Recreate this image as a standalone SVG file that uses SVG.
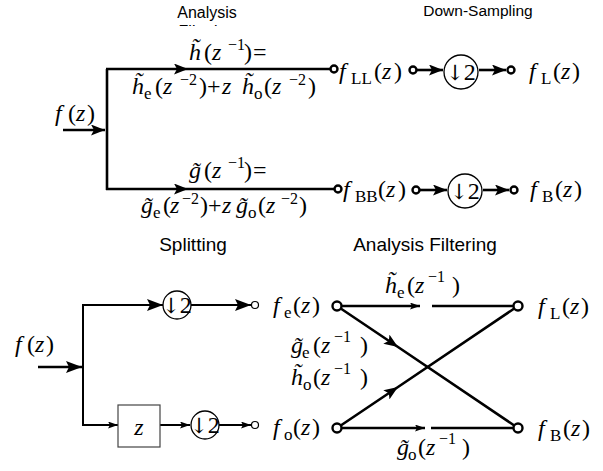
<svg xmlns="http://www.w3.org/2000/svg" width="603" height="471" viewBox="0 0 603 471">
<style>
  .ln{fill:none;stroke:#000;stroke-width:2.6}
  .ln2{fill:none;stroke:#000;stroke-width:2}
  .oc{fill:#fff;stroke:#000;stroke-width:2.4}
  .oc1{fill:#fff;stroke:#000;stroke-width:1.2}
  .ds{fill:#fff;stroke:#000;stroke-width:1.3}
  .box{fill:#fff;stroke:#444;stroke-width:1.2}
  .t{font-family:"Liberation Sans",Arial,sans-serif;fill:#000}
  .m{font-family:"Liberation Serif","Times New Roman",serif;font-size:24px;fill:#000}
  .i{font-style:italic}
  .s{font-size:17px}
  .p{font-size:16px}
  .ar{font-family:"DejaVu Serif","DejaVu Sans",serif;font-size:21px}
</style>
<defs>
  <marker id="ah" markerUnits="userSpaceOnUse" markerWidth="14" markerHeight="11" refX="14" refY="5.5" orient="auto">
    <path d="M0,0 L14,5.5 L0,11 L3,5.5 Z" fill="#000"/>
  </marker>
  <marker id="al" markerUnits="userSpaceOnUse" markerWidth="16" markerHeight="12" refX="16" refY="6" orient="auto">
    <path d="M0,0 L16,6 L0,12 L3,6 Z" fill="#000"/>
  </marker>
  <marker id="as" markerUnits="userSpaceOnUse" markerWidth="10" markerHeight="7" refX="10" refY="3.5" orient="auto">
    <path d="M0,0 L10,3.5 L0,7 L2,3.5 Z" fill="#000"/>
  </marker>
  <clipPath id="clipF"><rect x="150" y="0" width="120" height="26"/></clipPath>
</defs>

<g id="connectors">
  <path class="ln" d="M63,130 H105" marker-end="url(#ah)"/>
  <path class="ln" d="M107,69 V190"/>
  <path class="ln" d="M106,69 L188,69 L330,69" marker-mid="url(#ah)"/>
  <path class="ln" d="M106,189 L188,189 L334,189" marker-mid="url(#ah)"/>
  <path class="ln" d="M417,70 H443" marker-end="url(#ah)"/>
  <path class="ln" d="M479,70 H506" marker-end="url(#ah)"/>
  <path class="ln" d="M420,190 H447" marker-end="url(#ah)"/>
  <path class="ln" d="M483,190 H509" marker-end="url(#ah)"/>
  <path class="ln" d="M38,367 H82" marker-end="url(#al)"/>
  <path class="ln2" d="M83,305 V425"/>
  <path class="ln2" d="M82,305 H163" marker-end="url(#al)"/>
  <path class="ln2" d="M82,425 H118" marker-end="url(#as)"/>
  <path class="ln2" d="M191,305 H251" marker-end="url(#al)"/>
  <path class="ln2" d="M160,425 H190" marker-end="url(#as)"/>
  <path class="ln2" d="M219,425 H251" marker-end="url(#as)"/>
  <path class="ln" d="M341,306 H420" marker-end="url(#as)"/>
  <path class="ln" d="M432,306 H514"/>
  <path class="ln" d="M341,428 H425" marker-end="url(#as)"/>
  <path class="ln" d="M431,428 H514"/>
  <path class="ln" d="M340,308 L398,347 L515,426" marker-mid="url(#ah)"/>
  <path class="ln" d="M340,426 L398,387 L515,308" marker-mid="url(#ah)"/>
</g>

<g id="titles">
  <text class="t" x="207" y="18" font-size="16" text-anchor="middle">Analysis</text>
  <text class="t" x="207" y="37" font-size="16" text-anchor="middle" clip-path="url(#clipF)">Filtering</text>
  <text class="t" x="478" y="16" font-size="15.5" text-anchor="middle">Down-Sampling</text>
  <text class="t" x="193" y="251" font-size="19" text-anchor="middle">Splitting</text>
  <text class="t" x="425" y="251" font-size="19" text-anchor="middle">Analysis Filtering</text>
</g>

<g id="input-top">
  <text class="m" y="121"><tspan class="i" x="55">f</tspan><tspan x="68">(</tspan><tspan class="i" x="76">z</tspan><tspan x="87">)</tspan></text>
</g>

<g id="filter-h">
  <text class="m" y="60"><tspan class="i" x="189">h&#x303;</tspan><tspan x="204">(</tspan><tspan class="i" x="212">z</tspan><tspan class="p" x="228" y="50">−1</tspan><tspan x="244" y="60">)</tspan><tspan x="253">=</tspan></text>
  <text class="m" y="94"><tspan class="i" x="132">h&#x303;</tspan><tspan class="s" x="144" y="99">e</tspan><tspan x="155" y="94">(</tspan><tspan class="i" x="163">z</tspan><tspan class="p" x="180" y="85">−2</tspan><tspan x="199" y="94">)</tspan><tspan x="207">+</tspan><tspan class="i" x="222">z</tspan><tspan class="i" x="242">h&#x303;</tspan><tspan class="s" x="254" y="99">o</tspan><tspan x="264" y="94">(</tspan><tspan class="i" x="272">z</tspan><tspan class="p" x="289" y="85">−2</tspan><tspan x="308" y="94">)</tspan></text>
</g>

<g id="filter-g">
  <text class="m" y="178"><tspan class="i" x="189">g&#x303;</tspan><tspan x="204">(</tspan><tspan class="i" x="212">z</tspan><tspan class="p" x="228" y="168">−1</tspan><tspan x="244" y="178">)</tspan><tspan x="253">=</tspan></text>
  <text class="m" y="213"><tspan class="i" x="141">g&#x303;</tspan><tspan class="s" x="153" y="218">e</tspan><tspan x="163" y="213">(</tspan><tspan class="i" x="170">z</tspan><tspan class="p" x="182" y="204">−2</tspan><tspan x="200" y="213">)</tspan><tspan x="208">+</tspan><tspan class="i" x="222">z</tspan><tspan class="i" x="236">g&#x303;</tspan><tspan class="s" x="248" y="218">o</tspan><tspan x="258" y="213">(</tspan><tspan class="i" x="266">z</tspan><tspan class="p" x="281" y="204">−2</tspan><tspan x="299" y="213">)</tspan></text>
</g>

<g id="out-LL">
  <circle class="oc" cx="334" cy="69" r="3.5"/>
  <text class="m" y="79"><tspan class="i" x="339">f</tspan><tspan class="s" x="351" y="84">LL</tspan><tspan x="374" y="79">(</tspan><tspan class="i" x="382">z</tspan><tspan x="394">)</tspan></text>
</g>
<g id="ds-top">
  <circle class="oc" cx="413" cy="70" r="3.5"/>
  <circle class="ds" cx="461" cy="72" r="17"/>
  <text class="m" x="461" y="80" text-anchor="middle"><tspan class="ar">↓</tspan>2</text>
  <circle class="oc" cx="511" cy="70" r="3.5"/>
</g>
<g id="out-L-top">
  <text class="m" y="79"><tspan class="i" x="529">f</tspan><tspan class="s" x="541" y="84">L</tspan><tspan x="553" y="79">(</tspan><tspan class="i" x="561">z</tspan><tspan x="572">)</tspan></text>
</g>

<g id="out-BB">
  <circle class="oc" cx="338" cy="189" r="3.5"/>
  <text class="m" y="197"><tspan class="i" x="343">f</tspan><tspan class="s" x="355" y="202">BB</tspan><tspan x="378" y="197">(</tspan><tspan class="i" x="386">z</tspan><tspan x="398">)</tspan></text>
</g>
<g id="ds-bottom">
  <circle class="oc" cx="416" cy="190" r="3.5"/>
  <circle class="ds" cx="465" cy="191" r="17"/>
  <text class="m" x="465" y="199" text-anchor="middle"><tspan class="ar">↓</tspan>2</text>
  <circle class="oc" cx="514" cy="190" r="3.5"/>
</g>
<g id="out-B-top">
  <text class="m" y="197"><tspan class="i" x="530">f</tspan><tspan class="s" x="542" y="202">B</tspan><tspan x="555" y="197">(</tspan><tspan class="i" x="563">z</tspan><tspan x="574">)</tspan></text>
</g>

<g id="input-bottom">
  <text class="m" y="352"><tspan class="i" x="15">f</tspan><tspan x="27">(</tspan><tspan class="i" x="35">z</tspan><tspan x="46">)</tspan></text>
</g>
<g id="split-even">
  <circle class="ds" cx="177" cy="305" r="14"/>
  <text class="m" x="177" y="313" text-anchor="middle"><tspan class="ar">↓</tspan>2</text>
  <circle class="oc1" cx="255" cy="305" r="3.5"/>
</g>
<g id="delay">
  <rect class="box" x="118" y="405" width="42" height="42"/>
  <text class="m i" x="139" y="435" text-anchor="middle">z</text>
</g>
<g id="split-odd">
  <circle class="ds" cx="205" cy="425" r="14"/>
  <text class="m" x="205" y="433" text-anchor="middle"><tspan class="ar">↓</tspan>2</text>
  <circle class="oc1" cx="255" cy="425" r="3.5"/>
</g>

<g id="node-fe">
  <text class="m" y="313"><tspan class="i" x="273">f</tspan><tspan class="s" x="284" y="318">e</tspan><tspan x="293" y="313">(</tspan><tspan class="i" x="301">z</tspan><tspan x="312">)</tspan></text>
  <circle class="oc" cx="337" cy="306" r="4.5"/>
</g>
<g id="node-fo">
  <text class="m" y="435"><tspan class="i" x="273">f</tspan><tspan class="s" x="284" y="440">o</tspan><tspan x="293" y="435">(</tspan><tspan class="i" x="301">z</tspan><tspan x="312">)</tspan></text>
  <circle class="oc" cx="337" cy="428" r="4.5"/>
</g>
<g id="node-fL">
  <circle class="oc" cx="518" cy="306" r="4.5"/>
  <text class="m" y="314"><tspan class="i" x="538">f</tspan><tspan class="s" x="550" y="319">L</tspan><tspan x="562" y="314">(</tspan><tspan class="i" x="570">z</tspan><tspan x="581">)</tspan></text>
</g>
<g id="node-fB">
  <circle class="oc" cx="518" cy="428" r="4.5"/>
  <text class="m" y="436"><tspan class="i" x="538">f</tspan><tspan class="s" x="550" y="441">B</tspan><tspan x="563" y="436">(</tspan><tspan class="i" x="571">z</tspan><tspan x="582">)</tspan></text>
</g>

<g id="edge-labels">
  <text class="m" y="293"><tspan class="i" x="385">h&#x303;</tspan><tspan class="s" x="397" y="298">e</tspan><tspan x="407" y="293">(</tspan><tspan class="i" x="415">z</tspan><tspan class="p" x="428" y="282">−1</tspan><tspan x="452" y="293">)</tspan></text>
  <text class="m" y="353"><tspan class="i" x="291">g&#x303;</tspan><tspan class="s" x="302" y="358">e</tspan><tspan x="313" y="353">(</tspan><tspan class="i" x="321">z</tspan><tspan class="p" x="334" y="342">−1</tspan><tspan x="360" y="353">)</tspan></text>
  <text class="m" y="385"><tspan class="i" x="291">h&#x303;</tspan><tspan class="s" x="303" y="390">o</tspan><tspan x="313" y="385">(</tspan><tspan class="i" x="321">z</tspan><tspan class="p" x="334" y="374">−1</tspan><tspan x="360" y="385">)</tspan></text>
  <text class="m" y="455"><tspan class="i" x="397">g&#x303;</tspan><tspan class="s" x="408" y="460">o</tspan><tspan x="418" y="455">(</tspan><tspan class="i" x="426">z</tspan><tspan class="p" x="439" y="444">−1</tspan><tspan x="462" y="455">)</tspan></text>
</g>
</svg>
